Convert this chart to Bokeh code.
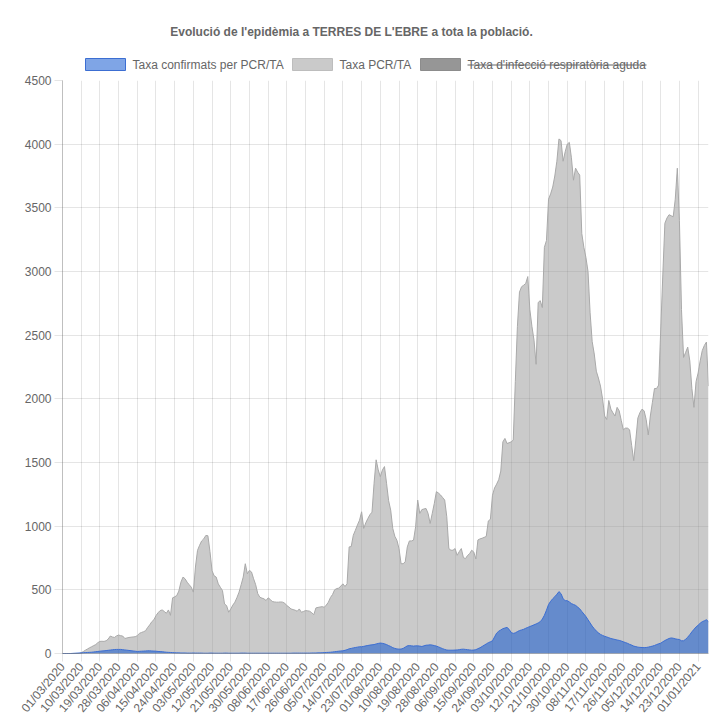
import math
import pandas as pd
from bokeh.plotting import figure
from bokeh.layouts import column
from bokeh.models import Range1d, FixedTicker
from bokeh.core.properties import value
from bokeh.embed import file_html
from bokeh.resources import INLINE

TITLE = "Evolució de l'epidèmia a TERRES DE L'EBRE a tota la població."
SERIES_LABELS = ["Taxa confirmats per PCR/TA", "Taxa PCR/TA", "Taxa d'infecció respiratòria aguda"]
START_DATE = "2020-03-01"

# Taxa PCR/TA (grey area), daily values, month by month
pcr_mar = [0, 0, 0, 0, 0, 0, 0, 0, 0, 5, 15, 26, 35, 45, 53, 62, 70, 85, 95, 96,
           95, 100, 113, 137, 130, 126, 138, 145, 140, 137, 118]
pcr_apr = [122, 126, 128, 130, 132, 140, 158, 165, 171, 179, 205, 225, 250, 265, 297, 320, 337, 342, 330, 316,
           342, 300, 437, 445, 455, 490, 560, 600, 587, 560]
pcr_may = [540, 521, 482, 679, 810, 850, 884, 900, 927, 925, 800, 650, 610, 600, 547, 520, 495, 389, 376, 324,
           350, 380, 403, 440, 482, 540, 600, 705, 626, 653, 640]
pcr_jun = [587, 540, 470, 442, 435, 429, 416, 437, 425, 408, 405, 403, 403, 405, 403, 395, 376, 365, 350, 345,
           340, 332, 350, 324, 330, 337, 335, 332, 320, 305]
pcr_jul = [358, 362, 365, 368, 363, 380, 403, 440, 463, 500, 510, 513, 530, 547, 526, 547, 837, 840, 929, 968,
           1010, 1047, 1113, 982, 1026, 1060, 1090, 1110, 1337, 1521, 1442]
pcr_aug = [1389, 1440, 1468, 1337, 1200, 1126, 982, 920, 889, 824, 705, 705, 720, 837, 884, 884, 890, 995, 1205, 1100,
           1130, 1135, 1139, 1100, 1021, 1100, 1179, 1271, 1260, 1245, 1225]
pcr_sep = [1205, 1074, 824, 811, 811, 824, 771, 800, 824, 753, 745, 770, 784, 811, 797, 743, 892, 900, 905, 912,
           919, 1041, 1054, 1243, 1300, 1330, 1365, 1433, 1662, 1689]
pcr_oct = [1649, 1655, 1662, 1676, 2135, 2568, 2838, 2880, 2892, 2906, 2960, 2700, 2568, 2460, 2271, 2757, 2771, 2717, 3190, 3244,
           3568, 3610, 3663, 3750, 3866, 4041, 4028, 3866, 3940, 4000, 4014]
pcr_nov = [3893, 3717, 3812, 3780, 3757, 3298, 3190, 3109, 3000, 2676, 2450, 2352, 2217, 2163, 2100, 2000, 1865, 1838, 1987, 1919,
           1890, 1865, 1933, 1906, 1830, 1757, 1770, 1770, 1757, 1635]
pcr_dec = [1514, 1676, 1850, 1892, 1919, 1906, 1838, 1716, 1865, 1973, 2081, 2081, 2108, 2541, 2973, 3379, 3420, 3446, 3438, 3430,
           3568, 3811, 3400, 2700, 2325, 2365, 2406, 2298, 2081, 1933, 2135]
pcr_jan = [2203, 2298, 2379, 2419, 2446, 2100]

# Taxa confirmats per PCR/TA (blue area)
conf_mar = [0, 0, 0, 0, 0, 1, 2, 3, 4, 5, 6, 7, 8, 9, 10, 12, 14, 16, 18, 20,
            21, 23, 25, 27, 29, 31, 32, 32, 32, 30, 28]
conf_apr = [26, 24, 22, 20, 18, 16, 17, 18, 19, 20, 21, 21, 20, 19, 18, 16, 15, 14, 12, 10,
            9, 8, 7, 6, 5, 5, 4, 4, 4, 3]
conf_may = [3, 3, 4, 3, 3, 3, 3, 2, 2, 2, 3, 3, 2, 2, 2, 2, 2, 3, 3, 2,
            2, 2, 2, 2, 2, 3, 3, 3, 2, 2, 2]
conf_jun = [2, 2, 2, 2, 2, 2, 2, 2, 2, 2, 2, 2, 2, 2, 2, 2, 2, 2, 2, 3,
            3, 3, 3, 3, 3, 3, 3, 3, 4, 4]
conf_jul = [4, 5, 5, 6, 7, 8, 9, 10, 12, 14, 16, 18, 20, 21, 25, 30, 37, 40, 44, 47,
            50, 53, 53, 56, 60, 63, 66, 68, 70, 75, 79]
conf_aug = [82, 80, 76, 70, 62, 55, 46, 40, 36, 34, 35, 40, 50, 60, 62, 60, 58, 60, 60, 58,
            55, 60, 65, 66, 68, 66, 62, 58, 52, 45, 38]
conf_sep = [32, 27, 26, 26, 26, 27, 28, 30, 33, 34, 32, 30, 28, 26, 27, 30, 38, 45, 55, 65,
            75, 85, 92, 100, 130, 160, 175, 185, 195, 200]
conf_oct = [205, 190, 165, 158, 162, 172, 180, 185, 190, 198, 205, 212, 218, 225, 232, 240, 250, 270, 300, 340,
            385, 410, 430, 446, 465, 486, 470, 430, 415, 415, 405]
conf_nov = [392, 385, 378, 365, 351, 330, 310, 290, 265, 240, 215, 195, 176, 162, 150, 142, 135, 130, 124, 118,
            114, 110, 106, 103, 98, 92, 86, 80, 72, 66]
conf_dec = [58, 54, 50, 48, 47, 46, 47, 50, 54, 58, 63, 70, 76, 81, 92, 102, 110, 118, 122, 120,
            115, 112, 110, 100, 100, 112, 128, 148, 170, 190, 208]
conf_jan = [222, 238, 250, 257, 265, 250]

X_TICK_LABELS = ["01/03/2020", "10/03/2020", "19/03/2020", "28/03/2020", "06/04/2020", "15/04/2020",
                 "24/04/2020", "03/05/2020", "12/05/2020", "21/05/2020", "30/05/2020", "08/06/2020",
                 "17/06/2020", "26/06/2020", "05/07/2020", "14/07/2020", "23/07/2020", "01/08/2020",
                 "10/08/2020", "19/08/2020", "28/08/2020", "06/09/2020", "15/09/2020", "24/09/2020",
                 "03/10/2020", "12/10/2020", "21/10/2020", "30/10/2020", "08/11/2020", "17/11/2020",
                 "26/11/2020", "05/12/2020", "14/12/2020", "23/12/2020", "01/01/2021"]
Y_TICKS = [0, 500, 1000, 1500, 2000, 2500, 3000, 3500, 4000, 4500]

pcr = (pcr_mar + pcr_apr + pcr_may + pcr_jun + pcr_jul + pcr_aug + pcr_sep + pcr_oct
       + pcr_nov + pcr_dec + pcr_jan)
conf = (conf_mar + conf_apr + conf_may + conf_jun + conf_jul + conf_aug + conf_sep + conf_oct
        + conf_nov + conf_dec + conf_jan)
n = len(pcr)
dates = [d.strftime("%d/%m/%Y") for d in pd.date_range(START_DATE, periods=n, freq="D")]
xs = list(range(n))
tick_pos = [dates.index(lbl) for lbl in X_TICK_LABELS]

FONT = "Liberation Sans"
TXT = "#666666"
BLUE_FILL = (0, 75, 205)
BLUE_LINE = (60, 110, 210)
GREY_FILL = (150, 150, 150)
GREY_LINE = "#a9a9a9"
DARK_FILL = "#969696"

W = 716
BORDER_L = 62
BORDER_R = 8
FRAME_L = BORDER_L
FRAME_R = W - BORDER_R
HEAD_H = 72

# ---------- header (title + legend), coordinates in page pixels ----------
head = figure(width=W, height=HEAD_H, x_range=Range1d(FRAME_L, FRAME_R), y_range=Range1d(HEAD_H, 0),
              output_backend="svg", toolbar_location=None, x_axis_type=None, y_axis_type=None,
              min_border_left=BORDER_L, min_border_right=BORDER_R, min_border_top=0, min_border_bottom=0)
head.grid.visible = False
head.outline_line_color = None
head.text(x=[351], y=[31], text=[TITLE], text_font=value(FONT), text_font_size="12px",
          text_font_style="bold", text_color=TXT, text_align="center", text_baseline="middle")

box_left = [85, 292, 420]
box_w = 40
text_w = [152, 71, 179]
fills = [BLUE_FILL, GREY_FILL, DARK_FILL]
alphas = [0.5, 0.5, 1.0]
lines = [BLUE_LINE, "#bdbdbd", "#8c8c8c"]
for i, lbl in enumerate(SERIES_LABELS):
    head.quad(left=[box_left[i]], right=[box_left[i] + box_w], top=[58], bottom=[70],
              fill_color=fills[i], fill_alpha=alphas[i], line_color=lines[i], line_width=1)
    tx = box_left[i] + box_w + 7
    head.text(x=[tx], y=[64.5], text=[lbl], text_font=value(FONT), text_font_size="12px",
              text_color=TXT, text_align="left", text_baseline="middle")
# hidden dataset: struck-through label
head.segment(x0=[box_left[2] + box_w + 7], x1=[box_left[2] + box_w + 7 + text_w[2]],
             y0=[64.5], y1=[64.5], line_color=TXT, line_width=1)

# ---------- main chart ----------
p = figure(width=W, height=653, x_range=Range1d(0, n - 1), y_range=Range1d(0, 4500),
           output_backend="svg", toolbar_location=None,
           min_border_left=BORDER_L, min_border_right=BORDER_R, min_border_top=8, min_border_bottom=72)
p.outline_line_color = None

p.varea(x=xs, y1=0, y2=pcr, fill_color=GREY_FILL, fill_alpha=0.5)
p.line(x=xs, y=pcr, line_color=GREY_LINE, line_width=1)
p.varea(x=xs, y1=0, y2=conf, fill_color=BLUE_FILL, fill_alpha=0.5)
p.line(x=xs, y=conf, line_color=BLUE_LINE, line_width=1)

p.xaxis.ticker = FixedTicker(ticks=tick_pos)
p.xaxis.major_label_overrides = {pos: lbl for pos, lbl in zip(tick_pos, X_TICK_LABELS)}
p.xaxis.major_label_orientation = math.radians(50)
p.yaxis.ticker = FixedTicker(ticks=Y_TICKS)

for ax in (p.xaxis, p.yaxis):
    ax.major_label_text_font = FONT
    ax.major_label_text_font_size = "12px"
    ax.major_label_text_color = TXT
    ax.axis_line_color = "black"
    ax.axis_line_alpha = 0.25
    ax.major_tick_line_color = "black"
    ax.major_tick_line_alpha = 0.1
    ax.major_tick_in = 0
    ax.major_tick_out = 8
    ax.minor_tick_line_color = None
    ax.major_label_standoff = 3

p.xgrid.grid_line_color = "black"
p.xgrid.grid_line_alpha = 0.1
p.ygrid.grid_line_color = "black"
p.ygrid.grid_line_alpha = 0.1

layout = column(head, p)
open("out.html", "w").write(file_html(layout, INLINE))
